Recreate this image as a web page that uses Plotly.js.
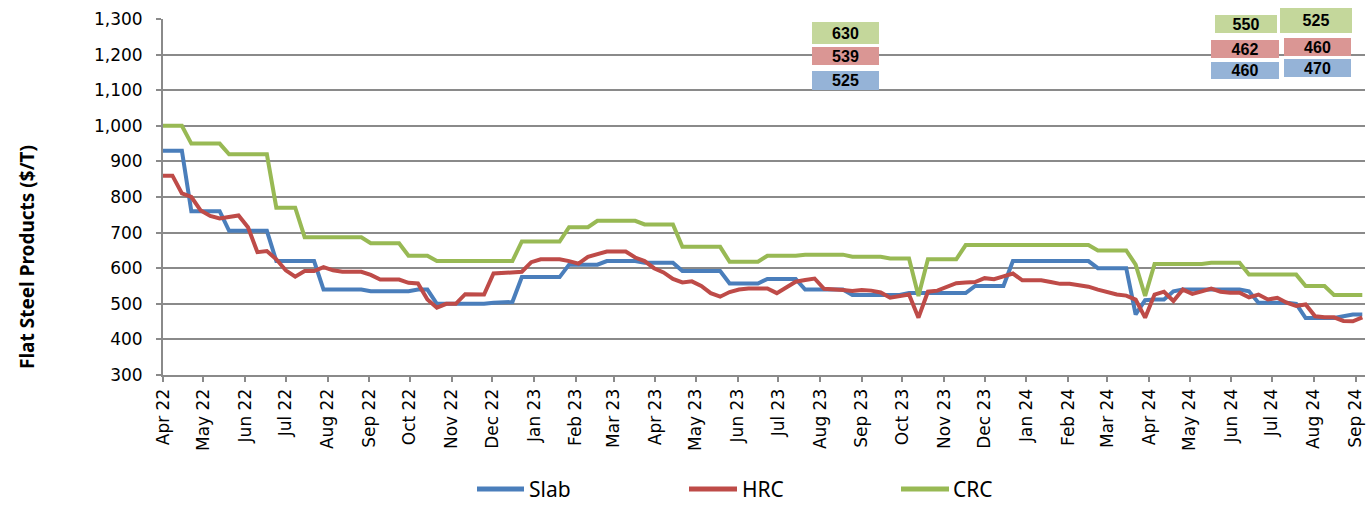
<!DOCTYPE html>
<html>
<head>
<meta charset="utf-8">
<script src="https://cdn.plot.ly/plotly-3.0.1.min.js"></script>
<style>
html,body{margin:0;padding:0;background:#fff;}
#chart{width:1370px;height:505px;}
</style>
</head>
<body>
<div id="chart"></div>
<script>
// Weekly observation dates (Fridays)
const weeks = [
'2022-04-01','2022-04-08','2022-04-15','2022-04-22','2022-04-29',
'2022-05-06','2022-05-13','2022-05-20','2022-05-27',
'2022-06-03','2022-06-10','2022-06-17','2022-06-24',
'2022-07-01','2022-07-08','2022-07-15','2022-07-22','2022-07-29',
'2022-08-05','2022-08-12','2022-08-19','2022-08-26',
'2022-09-02','2022-09-09','2022-09-16','2022-09-23','2022-09-30',
'2022-10-07','2022-10-14','2022-10-21','2022-10-28',
'2022-11-04','2022-11-11','2022-11-18','2022-11-25',
'2022-12-02','2022-12-09','2022-12-16','2022-12-23','2022-12-30',
'2023-01-06','2023-01-13','2023-01-20','2023-01-27',
'2023-02-03','2023-02-10','2023-02-17','2023-02-24',
'2023-03-03','2023-03-10','2023-03-17','2023-03-24','2023-03-31',
'2023-04-07','2023-04-14','2023-04-21','2023-04-28',
'2023-05-05','2023-05-12','2023-05-19','2023-05-26',
'2023-06-02','2023-06-09','2023-06-16','2023-06-23','2023-06-30',
'2023-07-07','2023-07-14','2023-07-21','2023-07-28',
'2023-08-04','2023-08-11','2023-08-18','2023-08-25',
'2023-09-01','2023-09-08','2023-09-15','2023-09-22','2023-09-29',
'2023-10-06','2023-10-13','2023-10-20','2023-10-27',
'2023-11-03','2023-11-10','2023-11-17','2023-11-24',
'2023-12-01','2023-12-08','2023-12-15','2023-12-22','2023-12-29',
'2024-01-05','2024-01-12','2024-01-19','2024-01-26',
'2024-02-02','2024-02-09','2024-02-16','2024-02-23',
'2024-03-01','2024-03-08','2024-03-15','2024-03-22','2024-03-29',
'2024-04-05','2024-04-12','2024-04-19','2024-04-26',
'2024-05-03','2024-05-10','2024-05-17','2024-05-24','2024-05-31',
'2024-06-07','2024-06-14','2024-06-21','2024-06-28',
'2024-07-05','2024-07-12','2024-07-19','2024-07-26',
'2024-08-02','2024-08-09','2024-08-16','2024-08-23','2024-08-30',
'2024-09-06'
];

const slab = [
930,930,930,760,760,760,760,705,705,705,
705,705,620,620,620,620,620,540,540,540,
540,540,535,535,535,535,535,540,540,500,
500,500,500,500,500,503,505,505,575,575,
575,575,575,610,610,610,610,620,620,620,
620,615,615,615,615,592,592,592,592,592,
557,557,557,557,570,570,570,570,540,540,
540,540,540,525,525,525,525,525,525,530,
530,530,530,530,530,530,550,550,550,550,
620,620,620,620,620,620,620,620,620,600,
600,600,600,470,510,512,512,535,540,540,
540,540,540,540,540,535,503,503,503,503,
500,460,460,460,460,465,470,470
];

const hrc = [
860,860,810,800,762,747,740,744,748,715,
645,648,625,594,576,592,592,603,594,590,
590,590,581,568,568,568,559,557,512,489,
500,500,527,526,526,585,587,588,590,617,
625,625,625,620,613,632,640,647,647,647,
630,620,600,588,570,560,563,550,530,520,
533,540,543,543,543,530,545,562,567,571,
542,541,539,536,539,537,532,517,522,526,
461,534,537,548,558,560,561,572,569,577,
585,566,566,566,561,556,556,552,548,540,
532,526,523,512,461,526,534,508,540,528,
535,543,534,531,531,518,526,512,517,503,
494,498,465,462,462,452,451,462
];

const crc = [
1000,1000,1000,950,950,950,950,920,920,920,
920,920,770,770,770,687,687,687,687,687,
687,687,670,670,670,670,635,635,635,620,
620,620,620,620,620,620,620,620,675,675,
675,675,675,715,715,715,733,733,733,733,
733,723,723,723,723,660,660,660,660,660,
618,618,618,618,635,635,635,635,638,638,
638,638,638,632,632,632,632,627,627,627,
522,625,625,625,625,665,665,665,665,665,
667,667,667,667,667,665,665,665,665,650,
650,650,650,610,522,612,612,612,612,612,
612,615,615,615,615,582,582,582,582,582,
582,550,550,550,525,525,525,525
];

const seriesNames = ['Slab','HRC','CRC'];

const monthTicks = [
'2022-04-01','2022-05-01','2022-06-01','2022-07-01','2022-08-01','2022-09-01',
'2022-10-01','2022-11-01','2022-12-01','2023-01-01','2023-02-01','2023-03-01',
'2023-04-01','2023-05-01','2023-06-01','2023-07-01','2023-08-01','2023-09-01',
'2023-10-01','2023-11-01','2023-12-01','2024-01-01','2024-02-01','2024-03-01',
'2024-04-01','2024-05-01','2024-06-01','2024-07-01','2024-08-01','2024-09-01'
];
const monthLabels = [
'Apr 22','May 22','Jun 22','Jul 22','Aug 22','Sep 22','Oct 22','Nov 22','Dec 22',
'Jan 23','Feb 23','Mar 23','Apr 23','May 23','Jun 23','Jul 23','Aug 23','Sep 23',
'Oct 23','Nov 23','Dec 23','Jan 24','Feb 24','Mar 24','Apr 24','May 24','Jun 24',
'Jul 24','Aug 24','Sep 24'
];

// Price call-out labels: [CRC, HRC, Slab] for three snapshots
const calloutAug23 = ['630','539','525'];
const calloutJun24 = ['550','462','460'];
const calloutAug24 = ['525','460','470'];

const yTitle = 'Flat Steel Products ($/T)';

const colors = {Slab:'#4a7ebb', HRC:'#be4b48', CRC:'#98b954'};
const boxFill = {CRC:'#c4d79b', HRC:'#da9694', Slab:'#95b3d7'};
const seriesData = {Slab:slab, HRC:hrc, CRC:crc};

const traces = seriesNames.map(n => ({
  type:'scatter', mode:'lines', x:weeks, y:seriesData[n], name:n,
  line:{color:colors[n], width:4}, showlegend:false
}));

// call-out placement (layout only)
const boxLayout = [
  {labels:calloutAug23, cfg:[
    {x:'2023-08-20', y:1260, w:67, h:22},
    {x:'2023-08-20', y:1197, w:67, h:18},
    {x:'2023-08-20', y:1128, w:67, h:19}]},
  {labels:calloutJun24, cfg:[
    {x:'2024-06-12', y:1287, w:62, h:18},
    {x:'2024-06-11', y:1216, w:68, h:18},
    {x:'2024-06-11', y:1154, w:68, h:17}]},
  {labels:calloutAug24, cfg:[
    {x:'2024-08-03', y:1296, w:72, h:25},
    {x:'2024-08-04', y:1222, w:67, h:18},
    {x:'2024-08-04', y:1162, w:67, h:18}]}
];
const order = ['CRC','HRC','Slab'];
const annotations = [];
boxLayout.forEach(b => {
  b.labels.forEach((lab, i) => {
    const c = b.cfg[i];
    annotations.push({
      x:c.x, y:c.y, xref:'x', yref:'y', text:'<b>'+lab+'</b>',
      showarrow:false, bgcolor:boxFill[order[i]], width:c.w, height:c.h,
      borderpad:0, borderwidth:0, align:'center', valign:'middle',
      font:{family:'Liberation Sans, Arial, sans-serif', size:16, color:'#000'}
    });
  });
});

// plot area spans px 163..1365 horizontally, 19..375 vertically
const px2x = p => (p - 163) / 1202;
const py2y = p => (375 - p) / 356;

// Y-axis title (placed as in the original, below the axis centre)
annotations.push({xref:'paper', yref:'paper', x:px2x(27), y:py2y(257),
  xanchor:'center', yanchor:'middle', textangle:-90, showarrow:false,
  text:'<b>'+yTitle+'</b>',
  font:{family:'Noto Sans, Open Sans, sans-serif', size:19, color:'#000'}});

// Custom legend (layout only)
const legY = py2y(489);
const legendPos = [
  {line:[477, 524], text:527},
  {line:[689, 737], text:740},
  {line:[901, 949], text:951}
];
const shapes = [];
seriesNames.forEach((n, i) => {
  const p = legendPos[i];
  shapes.push({type:'line', xref:'paper', yref:'paper',
    x0:px2x(p.line[0]), x1:px2x(p.line[1]), y0:legY, y1:legY,
    line:{color:colors[n], width:5}});
  annotations.push({xref:'paper', yref:'paper', x:px2x(p.text), y:legY,
    xanchor:'left', yanchor:'middle', showarrow:false, text:n,
    font:{family:'Noto Sans, Open Sans, sans-serif', size:21, color:'#000'}});
});

const axisGray = '#8a8a8a';
const layout = {
  width:1370, height:505,
  margin:{l:163, r:5, t:19, b:130, pad:0},
  paper_bgcolor:'#fff', plot_bgcolor:'#fff',
  font:{family:'DejaVu Sans, Verdana, sans-serif', size:17, color:'#000'},
  showlegend:false,
  xaxis:{
    type:'date', range:['2022-04-01','2024-09-08'],
    tickmode:'array', tickvals:monthTicks, ticktext:monthLabels,
    tickangle:-90, ticks:'outside', ticklen:5, tickwidth:2, tickcolor:axisGray,
    showline:true, linecolor:axisGray, linewidth:2,
    showgrid:false, zeroline:false, fixedrange:true,
    tickfont:{family:'DejaVu Sans, Verdana, sans-serif', size:17, color:'#000'}
  },
  yaxis:{
    range:[300,1300], tickmode:'linear', tick0:300, dtick:100,
    tickformat:',d', ticks:'outside', ticklen:5, tickwidth:2, tickcolor:axisGray,
    ticklabelstandoff:10,
    showline:true, linecolor:axisGray, linewidth:2,
    showgrid:true, gridcolor:axisGray, gridwidth:2,
    zeroline:false, fixedrange:true,
    tickfont:{family:'DejaVu Sans, Verdana, sans-serif', size:17, color:'#000'}
  },
  shapes:shapes,
  annotations:annotations
};

Plotly.newPlot('chart', traces, layout, {displayModeBar:false, staticPlot:true});
</script>
</body>
</html>
